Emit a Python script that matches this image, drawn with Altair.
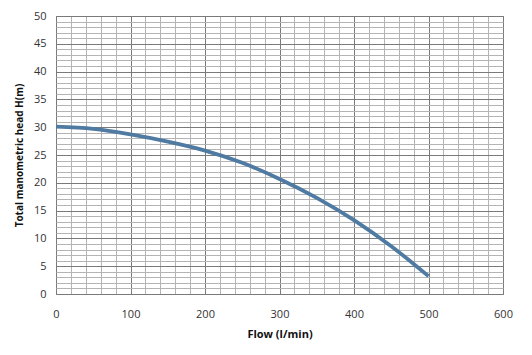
import altair as alt
import pandas as pd

flow = [0, 50, 100, 150, 200, 250, 300, 350, 400, 450, 500]
head = [30.1, 29.7, 28.7, 27.4, 25.8, 23.6, 20.7, 17.3, 13.3, 8.6, 3.2]

x_ticks = list(range(0, 601, 20))
y_ticks = list(range(0, 51, 1))

df = pd.DataFrame({"flow": flow, "head": head})

font = "Open Sans"

x_axis = alt.Axis(
    values=x_ticks,
    labelExpr="datum.value % 100 === 0 ? datum.label : ''",
    labelFlush=False,
    ticks=False,
    domain=False,
    grid=True,
    gridColor={"condition": {"test": "datum.value % 100 === 0", "value": "#7a7a7a"}, "value": "#b4b4b4"},
    gridWidth=1,
    labelFont=font,
    labelFontSize=11,
    labelColor="#333333",
    labelPadding=14,
    title="Flow (l/min)",
    titleFont=font,
    titleFontSize=11,
    titleFontWeight="bold",
    titleColor="#111111",
    titlePadding=9,
)

y_axis = alt.Axis(
    values=y_ticks,
    labelExpr="datum.value % 5 === 0 ? datum.label : ''",
    labelFlush=False,
    ticks=False,
    domain=False,
    grid=True,
    gridColor={"condition": {"test": "datum.value % 5 === 0", "value": "#7a7a7a"}, "value": "#b4b4b4"},
    gridWidth=1,
    labelFont=font,
    labelFontSize=11,
    labelColor="#333333",
    labelPadding=10,
    title="Total manometric head H(m)",
    titleFont=font,
    titleFontSize=10,
    titleFontWeight="bold",
    titleColor="#111111",
    titlePadding=9,
)

chart = (
    alt.Chart(df)
    .mark_line(color="#4f7aa2", strokeWidth=3.8, interpolate="monotone")
    .encode(
        x=alt.X("flow:Q", scale=alt.Scale(domain=[0, 600], nice=False), axis=x_axis),
        y=alt.Y("head:Q", scale=alt.Scale(domain=[0, 50], nice=False), axis=y_axis),
    )
    .properties(
        width=447,
        height=278,
        autosize=alt.AutoSizeParams(type="none"),
        padding={"left": 56, "top": 16, "right": 29, "bottom": 61},
        background="white",
    )
    .configure_view(stroke="#7a7a7a", strokeWidth=1)
)

chart.save("out.html", embed_options={"renderer": "svg", "actions": False})
